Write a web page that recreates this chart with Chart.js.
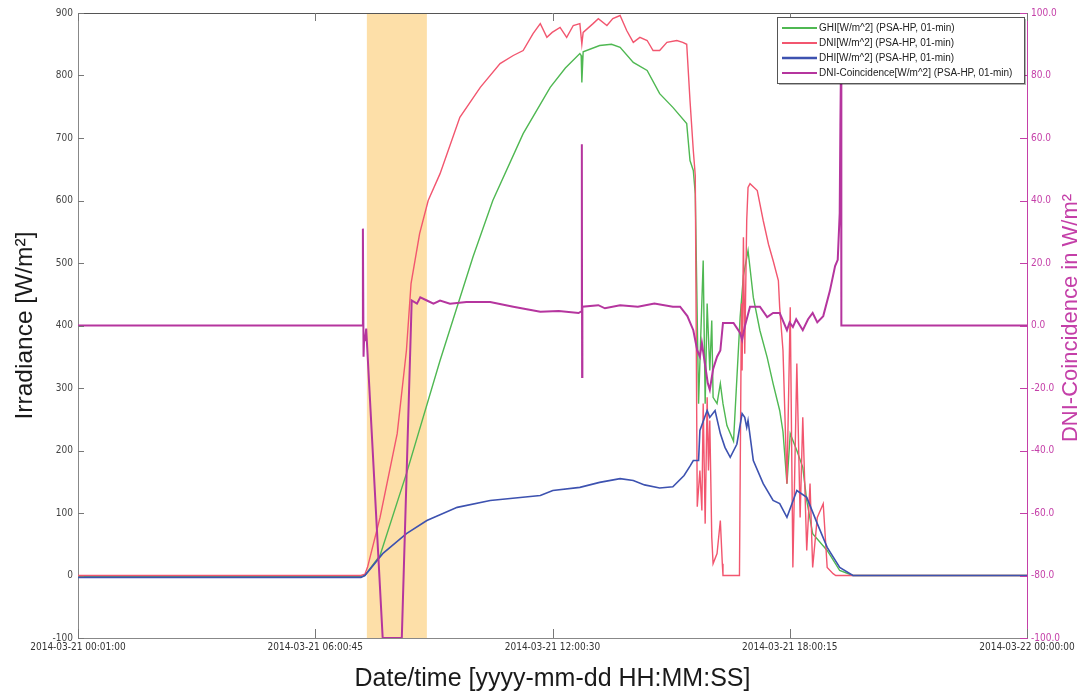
<!DOCTYPE html>
<html>
<head>
<meta charset="utf-8">
<script src="https://cdn.jsdelivr.net/npm/chart.js@4.4.1/dist/chart.umd.min.js"></script>
<style>
  html, body { margin: 0; padding: 0; background: #ffffff; }
  #wrap { position: relative; width: 1084px; height: 692px; }
</style>
</head>
<body>
<div id="wrap"><canvas id="c"></canvas></div>
<script>
// ---------- DATA (minutes after 2014-03-21 00:00) ----------
const xTickValues = [1, 360.75, 720.5, 1080.25, 1440];
const xTickLabels = ['2014-03-21 00:01:00', '2014-03-21 06:00:45', '2014-03-21 12:00:30', '2014-03-21 18:00:15', '2014-03-22 00:00:00'];
const shadeStart = 439;
const shadeEnd = 530;

const ghiTimes  = [1, 430, 436, 459, 499, 550, 600, 630, 676, 717, 740, 762, 764, 765, 767, 792, 810, 823, 843, 864, 883, 903, 924, 929, 934, 937, 942, 949, 952, 955, 959, 962, 964, 970, 975, 979, 985, 995, 1005, 1010, 1017, 1025, 1035, 1046, 1055, 1065, 1070, 1076, 1081, 1091, 1100, 1106, 1115, 1137, 1156, 1176, 1440];
const ghiValues = [-2, -2, 0, 32, 163, 344, 510, 600, 707, 781, 812, 835, 832, 789, 838, 848, 850, 845, 821, 808, 771, 749, 723, 664, 648, 611, 275, 504, 275, 435, 328, 408, 285, 275, 307, 275, 240, 215, 413, 480, 520, 445, 392, 349, 307, 264, 230, 147, 227, 200, 173, 120, 67, 40, 8, 0, 0];

const dniTimes  = [1, 430, 436, 440, 459, 485, 499, 506, 519, 532, 550, 580, 611, 641, 661, 676, 691, 702, 712, 720, 732, 742, 752, 762, 765, 767, 782, 790, 803, 812, 823, 833, 843, 853, 864, 873, 883, 894, 909, 918, 924, 929, 934, 937, 940, 944, 947, 949, 952, 955, 957, 959, 962, 964, 970, 975, 978, 979, 1004, 1007, 1008, 1010, 1012, 1015, 1017, 1020, 1031, 1040, 1048, 1055, 1063, 1065, 1070, 1076, 1081, 1085, 1091, 1096, 1100, 1106, 1111, 1115, 1122, 1131, 1137, 1146, 1150, 1440];
const dniValues = [0, 0, 2, 13, 93, 227, 360, 467, 547, 600, 643, 733, 781, 819, 832, 840, 867, 883, 861, 869, 877, 861, 880, 883, 850, 869, 883, 891, 880, 891, 896, 872, 853, 861, 856, 840, 840, 853, 856, 853, 850, 760, 680, 640, 110, 168, 104, 275, 83, 285, 168, 248, 61, 19, 35, 88, 19, 0, 0, 435, 328, 541, 355, 568, 621, 627, 616, 568, 530, 504, 472, 429, 360, 147, 429, 13, 339, 93, 253, 40, 147, 13, 93, 115, 13, 3, 0, 0];

const dhiTimes  = [1, 430, 436, 463, 499, 530, 576, 626, 702, 721, 762, 792, 823, 843, 860, 883, 903, 920, 929, 934, 942, 944, 955, 959, 967, 975, 982, 990, 1000, 1008, 1012, 1015, 1017, 1025, 1040, 1055, 1065, 1076, 1091, 1106, 1122, 1137, 1156, 1176, 1440];
const dhiValues = [-3, -3, 0, 35, 67, 88, 109, 120, 128, 136, 141, 149, 155, 152, 145, 140, 142, 160, 175, 184, 184, 232, 264, 253, 264, 227, 205, 189, 210, 259, 253, 237, 248, 184, 147, 120, 115, 93, 136, 125, 83, 45, 13, 0, 0];

const coinTimes  = [1, 432, 433, 434, 435, 436, 438, 463, 492, 507, 515, 520, 530, 540, 550, 565, 590, 626, 661, 702, 730, 760, 764, 765, 765.4, 765.8, 790, 800, 823, 850, 875, 903, 914, 925, 934, 940, 944, 947, 956, 959, 964, 970, 975, 979, 995, 1005, 1008, 1012, 1020, 1035, 1046, 1055, 1065, 1076, 1080, 1085, 1090, 1100, 1108, 1115, 1122, 1131, 1141, 1149, 1153, 1156, 1157, 1158, 1158.5, 1440];
const coinValues = [0, 0, 31, -10, -3, -5, -1, -100, -100, 8, 7, 9, 8, 7, 8, 7, 7.5, 7.5, 6, 4.4, 4.6, 4, 4.5, 58, -16.5, 6, 6.5, 5.5, 6.5, 6, 7, 6, 6, 3, -1.5, -8, -10, -5.6, -18.5, -20.6, -14, -10, -8, 0.8, 0.8, -2.4, -4.6, -0.4, 6, 6, 2.7, 4, 4, -1.5, 1, -0.5, 2, -1.5, 2, 4, 1, 3, 11, 19, 21, 36, 64, 85, 0, 0];

const seriesNames = ['GHI[W/m^2] (PSA-HP, 01-min)', 'DNI[W/m^2] (PSA-HP, 01-min)', 'DHI[W/m^2] (PSA-HP, 01-min)', 'DNI-Coincidence[W/m^2] (PSA-HP, 01-min)'];
const seriesColors = ['#4fb852', '#f2566f', '#3d52b0', '#b5359e'];

function pts(t, v) { return t.map((x, i) => ({ x: x, y: v[i] })); }

const AXIS_MAG = '#c43fa8';
const LABEL_FONT = '"Liberation Sans Narrow", "DejaVu Sans Condensed", "Liberation Sans", sans-serif';
const TITLE_FONT = '"Liberation Sans", Arial, sans-serif';

const decor = {
  id: 'decor',
  beforeDatasetsDraw(chart) {
    const { ctx, chartArea: a, scales } = chart;
    const x0 = scales.x.getPixelForValue(shadeStart);
    const x1 = scales.x.getPixelForValue(shadeEnd);
    ctx.save();
    ctx.fillStyle = '#fddfa8';
    ctx.fillRect(x0, a.top, x1 - x0, a.bottom - a.top);
    ctx.restore();
  },
  afterDatasetsDraw(chart) {
    const { ctx, chartArea: a, scales } = chart;
    ctx.save();
    ctx.strokeStyle = '#555';
    ctx.lineWidth = 1;
    ctx.beginPath();
    ctx.moveTo(a.left, a.top + 0.5);
    ctx.lineTo(a.right, a.top + 0.5);
    ctx.stroke();
    ctx.strokeStyle = '#777';
    scales.y.ticks.forEach(t => {
      const y = Math.round(scales.y.getPixelForValue(t.value)) + 0.5;
      ctx.beginPath(); ctx.moveTo(a.left, y); ctx.lineTo(a.left + 6, y); ctx.stroke();
    });
    scales.x.ticks.forEach(t => {
      const x = Math.round(scales.x.getPixelForValue(t.value)) + 0.5;
      ctx.beginPath(); ctx.moveTo(x, a.bottom); ctx.lineTo(x, a.bottom - 9); ctx.stroke();
      ctx.beginPath(); ctx.moveTo(x, a.top); ctx.lineTo(x, a.top + 8); ctx.stroke();
    });
    ctx.strokeStyle = AXIS_MAG;
    scales.y2.ticks.forEach(t => {
      const y = Math.round(scales.y2.getPixelForValue(t.value)) + 0.5;
      ctx.beginPath(); ctx.moveTo(a.right, y); ctx.lineTo(a.right - 7, y); ctx.stroke();
    });
    ctx.restore();
  },
  afterDraw(chart) {
    const { ctx, chartArea: a } = chart;
    ctx.save();
    ctx.textAlign = 'center';
    ctx.textBaseline = 'middle';
    ctx.fillStyle = '#1a1a1a';
    ctx.font = '24.5px ' + TITLE_FONT;
    ctx.save();
    ctx.translate(25, (a.top + a.bottom) / 2);
    ctx.rotate(-Math.PI / 2);
    ctx.fillText('Irradiance [W/m²]', 0, 0);
    ctx.restore();
    ctx.font = '25px ' + TITLE_FONT;
    ctx.fillText('Date/time [yyyy-mm-dd HH:MM:SS]', (a.left + a.right) / 2, 679);
    ctx.fillStyle = AXIS_MAG;
    ctx.font = '22px ' + TITLE_FONT;
    ctx.save();
    ctx.translate(1071, 318);
    ctx.rotate(-Math.PI / 2);
    ctx.fillText('DNI-Coincidence in W/m²', 0, 0);
    ctx.restore();

    const bx = 777, by = 17, bw = 247, bh = 66;
    ctx.fillStyle = 'rgba(0,0,0,0.3)';
    ctx.fillRect(bx + 2, by + 2, bw, bh);
    ctx.fillStyle = '#ffffff';
    ctx.fillRect(bx, by, bw, bh);
    ctx.strokeStyle = '#555';
    ctx.lineWidth = 1;
    ctx.strokeRect(bx + 0.5, by + 0.5, bw, bh);
    ctx.font = '10px ' + TITLE_FONT;
    ctx.textAlign = 'left';
    ctx.textBaseline = 'middle';
    seriesNames.forEach((n, i) => {
      const y = by + 11 + i * 15;
      ctx.strokeStyle = seriesColors[i];
      ctx.lineWidth = i === 2 ? 2.5 : 2;
      ctx.beginPath(); ctx.moveTo(bx + 5, y); ctx.lineTo(bx + 40, y); ctx.stroke();
      ctx.fillStyle = '#222';
      ctx.fillText(n, bx + 42, y);
    });
    ctx.restore();
  }
};

const ds = (label, t, v, color, width, yAxis, order) => ({
  label: label, data: pts(t, v), borderColor: color, backgroundColor: color,
  borderWidth: width, pointRadius: 0, tension: 0, yAxisID: yAxis, order: order, fill: false
});

new Chart(document.getElementById('c'), {
  type: 'line',
  data: {
    datasets: [
      ds(seriesNames[0], ghiTimes, ghiValues, seriesColors[0], 1.4, 'y', 3),
      ds(seriesNames[1], dniTimes, dniValues, seriesColors[1], 1.4, 'y', 2),
      ds(seriesNames[2], dhiTimes, dhiValues, seriesColors[2], 1.6, 'y', 1),
      ds(seriesNames[3], coinTimes, coinValues, seriesColors[3], 2, 'y2', 0)
    ]
  },
  options: {
    responsive: true,
    maintainAspectRatio: false,
    animation: false,
    layout: { padding: { top: 13, left: 0, right: 0, bottom: 0 } },
    plugins: { legend: { display: false }, tooltip: { enabled: false } },
    scales: {
      x: {
        type: 'linear', min: 1, max: 1440,
        afterBuildTicks: s => { s.ticks = xTickValues.map(v => ({ value: v })); },
        afterFit: s => { s.height = 54; },
        grid: { drawOnChartArea: false, drawTicks: false },
        border: { display: true, color: '#888', width: 1 },
        ticks: {
          autoSkip: false, maxRotation: 0, padding: 3, color: '#333',
          font: { family: LABEL_FONT, size: 10 },
          callback: (v, i) => xTickLabels[i]
        }
      },
      y: {
        position: 'left', min: -100, max: 900,
        afterFit: s => { s.width = 78; },
        grid: { drawOnChartArea: false, drawTicks: false },
        border: { display: true, color: '#888', width: 1 },
        ticks: { stepSize: 100, padding: 5, color: '#444', font: { family: LABEL_FONT, size: 10 } }
      },
      y2: {
        position: 'right', min: -100, max: 100,
        afterFit: s => { s.width = 57; },
        grid: { drawOnChartArea: false, drawTicks: false },
        border: { display: true, color: AXIS_MAG, width: 1 },
        ticks: { stepSize: 20, padding: 4, color: AXIS_MAG, font: { family: LABEL_FONT, size: 10 },
          callback: v => Number(v).toFixed(1) }
      }
    }
  },
  plugins: [decor]
});
</script>
</body>
</html>
